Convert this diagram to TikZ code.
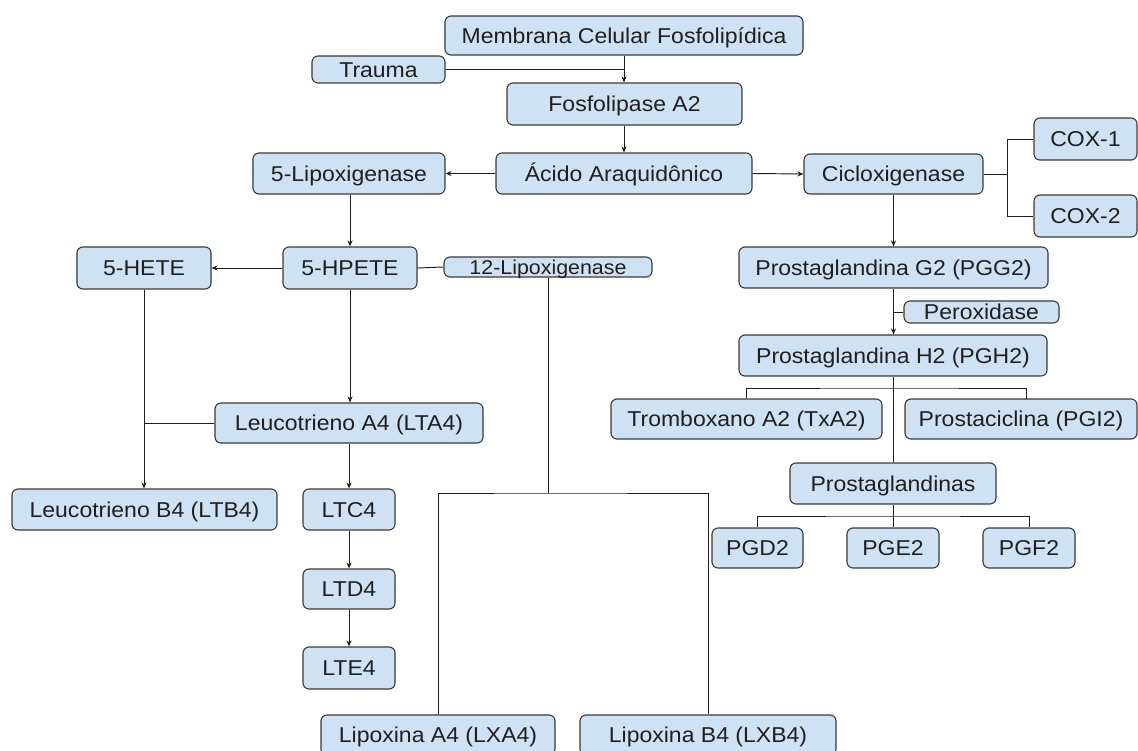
\documentclass[tikz,border=0pt]{standalone}
\usepackage{fontspec}
\setmainfont[FakeStretch=1.07]{Liberation Sans}
\usetikzlibrary{arrows.meta}
\definecolor{boxfill}{HTML}{CFE2F3}
\definecolor{boxline}{HTML}{3A3A3A}
\definecolor{linecol}{HTML}{1E1E1E}
\begin{document}
\begin{tikzpicture}[x=1pt,y=-1pt,
  bx/.style={draw=boxline, fill=boxfill, rounded corners=6pt, line width=1.1pt,
    inner sep=0pt, text height=15.4pt, text depth=0pt,
    font=\fontsize{21.5}{24}\selectfont, text=black!88},
  sm/.style={font=\fontsize{20}{22}\selectfont, text height=14.3pt},
  conn/.style={draw=linecol, line width=0.95pt},
  arr/.style={conn, -{Stealth[length=6pt,width=5pt]}}]
\useasboundingbox[fill=white] (0,0) rectangle (1138,751);

% nodes
\node[bx, minimum width=358, minimum height=39] (mem) at (624,35.5) {Membrana Celular Fosfolipídica};
\node[bx, minimum width=133, minimum height=27] (trauma) at (378.5,69.5) {Trauma};
\node[bx, minimum width=235, minimum height=42] (fosf) at (624.5,104) {Fosfolipase A2};
\node[bx, minimum width=256, minimum height=41] (acido) at (624,173.5) {Ácido Araquidônico};
\node[bx, minimum width=192, minimum height=41] (lipo5) at (349,173.5) {5-Lipoxigenase};
\node[bx, minimum width=179, minimum height=40] (ciclo) at (893.5,174) {Cicloxigenase};
\node[bx, minimum width=103, minimum height=42] (cox1) at (1085.5,139) {COX-1};
\node[bx, minimum width=103, minimum height=42] (cox2) at (1085.5,216) {COX-2};
\node[bx, minimum width=309, minimum height=41] (pgg2) at (893.5,267.5) {Prostaglandina G2 (PGG2)};
\node[bx, minimum width=155, minimum height=22] (perox) at (981.5,312) {Peroxidase};
\node[bx, minimum width=308, minimum height=41] (pgh2) at (893,355.5) {Prostaglandina H2 (PGH2)};
\node[bx, minimum width=271, minimum height=40] (trom) at (746.5,419) {Tromboxano A2 (TxA2)};
\node[bx, minimum width=232, minimum height=40] (prosta) at (1021,419) {Prostaciclina (PGI2)};
\node[bx, minimum width=206, minimum height=41] (pgs) at (893,483.5) {Prostaglandinas};
\node[bx, minimum width=91, minimum height=40] (pgd2) at (757.5,548) {PGD2};
\node[bx, minimum width=92, minimum height=40] (pge2) at (893,548) {PGE2};
\node[bx, minimum width=92, minimum height=40] (pgf2) at (1029,548) {PGF2};
\node[bx, minimum width=134, minimum height=42] (hpete) at (350,268) {5-HPETE};
\node[bx, minimum width=134, minimum height=42] (hete) at (144,268) {5-HETE};
\node[bx, sm, minimum width=208, minimum height=20] (lip12) at (548,267) {12-Lipoxigenase};
\node[bx, minimum width=268, minimum height=40] (lta4) at (349,423) {Leucotrieno A4 (LTA4)};
\node[bx, minimum width=265, minimum height=41] (ltb4) at (144.5,509.5) {Leucotrieno B4 (LTB4)};
\node[bx, minimum width=92, minimum height=41] (ltc4) at (349,509.5) {LTC4};
\node[bx, minimum width=92, minimum height=40] (ltd4) at (349,589) {LTD4};
\node[bx, minimum width=92, minimum height=42] (lte4) at (349,668) {LTE4};
\node[bx, minimum width=234, minimum height=40] (lxa4) at (438,735) {Lipoxina A4 (LXA4)};
\node[bx, minimum width=256, minimum height=40] (lxb4) at (708,735) {Lipoxina B4 (LXB4)};

% junction coordinates
\coordinate (tj) at (624,69.5);
\coordinate (cb) at (1007,174);
\coordinate (pj) at (893.5,312);
\coordinate (hj) at (893,388);
\coordinate (gj) at (893,516);
\coordinate (lj) at (548,493);
\coordinate (aj) at (144,423);

% connectors
\draw[arr] (mem.south) -- (fosf.north -| mem.south);
\draw[conn] (trauma.east) -- (tj);
\draw[arr] (fosf.south -| acido.north) -- (acido.north);
\draw[arr] (acido.west) -- (lipo5.east);
\draw[arr] (acido.east) -- (ciclo.west);
\draw[conn] (ciclo.east) -- (cb);
\draw[conn] (cox1.west) -| (cb) |- (cox2.west);
\draw[arr] (ciclo.south) -- (pgg2.north);
\draw[arr] (pgg2.south) -- (pgh2.north -| pgg2.south);
\draw[conn] (perox.west) -- (pj);
\draw[conn] (pgh2.south) -- (pgs.north);
\draw[conn] (trom.north) |- (hj) -| (1026,399);
\draw[conn] (pgs.south) -- (gj);
\draw[conn] (pgd2.north) |- (gj) -| (pgf2.north);
\draw[conn] (gj) -- (pge2.north);
\draw[arr] (lipo5.south -| hpete.north) -- (hpete.north);
\draw[arr] (hpete.west) -- (hete.east);
\draw[conn] (hpete.east) -- (lip12.west);
\draw[conn] (lip12.south) -- (lj);
\draw[conn] (lxa4.north) |- (lj) -| (lxb4.north);
\draw[arr] (hpete.south) -- (lta4.north -| hpete.south);
\draw[arr] (hete.south) -- (ltb4.north -| hete.south);
\draw[conn] (lta4.west) -- (aj);
\draw[arr] (lta4.south) -- (ltc4.north);
\draw[arr] (ltc4.south) -- (ltd4.north);
\draw[arr] (ltd4.south) -- (lte4.north);
\end{tikzpicture}
\end{document}
